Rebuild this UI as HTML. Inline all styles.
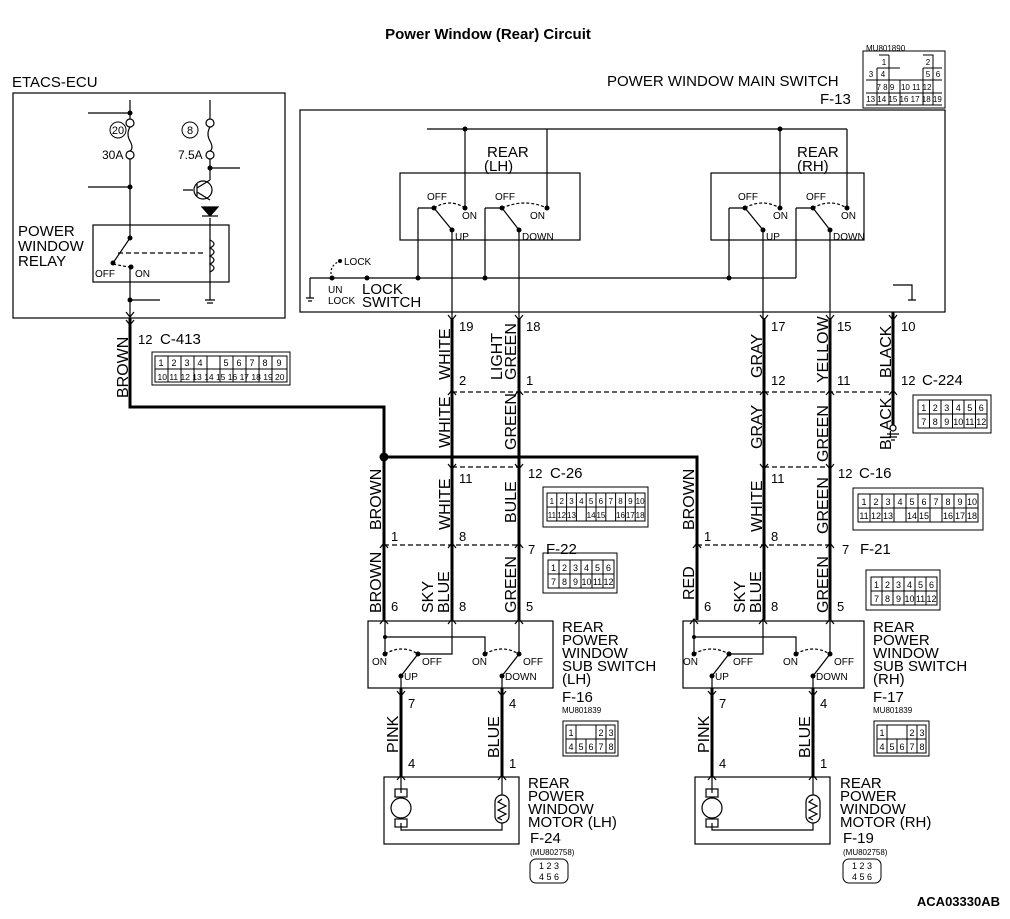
<!DOCTYPE html>
<html><head><meta charset="utf-8"><style>
html,body{margin:0;padding:0;background:#fff}
svg{display:block}
text{font-family:"Liberation Sans",sans-serif;fill:#000}
.n{font-family:"Liberation Sans",sans-serif;font-size:12px}
.w{font-size:16px}
.s{font-size:10px;font-family:"Liberation Sans",sans-serif}
.lb{font-size:15px}
</style></head><body>
<svg width="1010" height="919" viewBox="0 0 1010 919" xmlns="http://www.w3.org/2000/svg">
<g fill="none" stroke="#000" stroke-width="1.2">
<rect x="13" y="93" width="272" height="225"/>
<path d="M130 100 V119 M130 159 V238 M113 263 L130 238"/>
<path d="M130 267 V318"/>
<circle cx="130" cy="123" r="4"/><circle cx="130" cy="155" r="4"/>
<path d="M130 127 q-4 7 0 14 q4 7 0 10"/>
<path d="M210 100 V119 M210 159 V180 M210 218 V300"/>
<circle cx="210" cy="123" r="4"/><circle cx="210" cy="155" r="4"/>
<path d="M210 127 q-4 7 0 14 q4 7 0 10"/>
<path d="M88 113 H130 M88 187 H130 M210 168 H240 M130 300 H160 M183 190 H193"/>
<circle cx="203" cy="190" r="9"/>
<path d="M197 184 V196 M197 188 L210 180 M197 192 L210 200"/>
<path d="M202 207 H218 L210 216 Z" fill="#000"/><path d="M202 216 H218"/>
<path d="M210 240 q8 4 0 8 q8 4 0 8 q8 4 0 8 q8 4 0 8"/>
<path d="M205 300 H215 M207 303 H213"/>
<rect x="93" y="225" width="136" height="57"/>
<path d="M118 253 H205" stroke-dasharray="5,3"/>
<path d="M113 264 Q122 266 130 267" stroke-dasharray="3,2"/>
<rect x="300" y="110" width="645" height="202"/>
<path d="M427 129 H847 M465 129 V208 M547 129 V208 M780 129 V208 M847 129 V208"/>
<rect x="400" y="173" width="180" height="67"/>
<rect x="711" y="173" width="153" height="67"/>
<path d="M418 208 V278 M418 208 H434 L452 230 V318 M485 208 V278 M485 208 H502 L519 230 V318"/>
<path d="M434 208 Q450 198 465 208 M502 208 Q525 198 547 208" stroke-dasharray="3,2"/>
<path d="M729 208 V278 M729 208 H745 L763 230 V318 M796 208 V278 M796 208 H813 L830 230 V318"/>
<path d="M745 208 Q762 198 780 208 M813 208 Q830 198 847 208" stroke-dasharray="3,2"/>
<path d="M310 278 H796 M310 278 V298 M306 298 H314 M308 301 H312"/>
<path d="M332 278 Q328 266 340 261" stroke-dasharray="2,2"/>
<path d="M893 285 H912 V300 M908 300 H916"/>
<g stroke-width="3">
<path d="M130 318 V407 H384 V620"/>
<path d="M384 457 H697 V620"/>
<path d="M452 318 V620 M519 318 V620 M764 318 V620 M830 318 V620 M893 312 V425"/>
<path d="M401 688 V777 M502 688 V777 M712 688 V777 M813 688 V777"/>
</g>
<circle cx="893" cy="428" r="3"/><path d="M887 434 H899 M889 437 H897 M891 440 H895"/>
<g stroke-dasharray="5,3">
<path d="M452 392 H893 M452 467 H519 M764 467 H830 M384 545 H519 M697 545 H830"/>
</g>
<rect x="368" y="621" width="185" height="67"/>
<path d="M385 621 V654 M385 637 H485 V654 M452 621 V654 H418 L401 676 V688 M519 621 V654 L502 676 V688"/>
<path d="M385 654 Q402 644 418 654 M485 654 Q502 644 519 654" stroke-dasharray="3,2"/>
<rect x="683" y="621" width="181" height="67"/>
<path d="M694 621 V654 M694 637 H796 V654 M763 621 V654 H729 L712 676 V688 M830 621 V654 L813 676 V688"/>
<path d="M694 654 Q711 644 729 654 M796 654 Q813 644 830 654" stroke-dasharray="3,2"/>
<rect x="384" y="777" width="135" height="67"/>
<path d="M401 777 V793 M401 823 V830 H502 V823 M502 777 V795"/>
<circle cx="401" cy="808" r="10"/><rect x="395" y="789" width="12" height="8"/><rect x="395" y="819" width="12" height="8"/>
<rect x="495" y="795" width="14" height="28" rx="7"/><path d="M502 799 l-4 3 l8 4 l-8 4 l8 4 l-8 4 l4 2"/>
<rect x="695" y="777" width="135" height="67"/>
<path d="M712 777 V793 M712 823 V830 H813 V823 M813 777 V795"/>
<circle cx="712" cy="808" r="10"/><rect x="706" y="789" width="12" height="8"/><rect x="706" y="819" width="12" height="8"/>
<rect x="806" y="795" width="14" height="28" rx="7"/><path d="M813 799 l-4 3 l8 4 l-8 4 l8 4 l-8 4 l4 2"/>
<path d="M126 312 l4 5 l4 -5 M126 320 l4 5 l4 -5 M448 315 l4 5 l4 -5 M515 315 l4 5 l4 -5 M760 315 l4 5 l4 -5 M826 315 l4 5 l4 -5 M889 315 l4 5 l4 -5"/>
<path d="M448 395 l4 -5 l4 5 M515 395 l4 -5 l4 5 M760 395 l4 -5 l4 5 M826 395 l4 -5 l4 5 M889 395 l4 -5 l4 5"/>
<path d="M448 464 l4 5 l4 -5 M515 464 l4 5 l4 -5 M760 464 l4 5 l4 -5 M826 464 l4 5 l4 -5"/>
<path d="M380 548 l4 -5 l4 5 M448 548 l4 -5 l4 5 M515 548 l4 -5 l4 5 M693 548 l4 -5 l4 5 M760 548 l4 -5 l4 5 M826 548 l4 -5 l4 5"/>
<path d="M380 624 l4 -5 l4 5 M448 624 l4 -5 l4 5 M515 624 l4 -5 l4 5 M690 624 l4 -5 l4 5 M759 624 l4 -5 l4 5 M826 624 l4 -5 l4 5"/>
<path d="M397 691 l4 5 l4 -5 M498 691 l4 5 l4 -5 M708 691 l4 5 l4 -5 M809 691 l4 5 l4 -5"/>
<path d="M397 780 l4 -5 l4 5 M498 780 l4 -5 l4 5 M708 780 l4 -5 l4 5 M809 780 l4 -5 l4 5"/>
</g>
<g fill="#000">
<circle cx="130" cy="113" r="2.5"/><circle cx="130" cy="187" r="2.5"/><circle cx="210" cy="168" r="2.5"/><circle cx="130" cy="300" r="2.5"/>
<circle cx="130" cy="238" r="2.5"/><circle cx="113" cy="263" r="2.5"/><circle cx="131" cy="267" r="2.5"/>
<circle cx="465" cy="129" r="2.5"/><circle cx="780" cy="129" r="2.5"/>
<circle cx="418" cy="278" r="2.5"/><circle cx="485" cy="278" r="2.5"/><circle cx="729" cy="278" r="2.5"/><circle cx="367" cy="278" r="2.5"/><circle cx="332" cy="278" r="2.5"/><circle cx="340" cy="261" r="2"/>
<circle cx="434" cy="208" r="2.5"/><circle cx="465" cy="208" r="2.5"/><circle cx="452" cy="230" r="2.5"/><circle cx="502" cy="208" r="2.5"/><circle cx="547" cy="208" r="2.5"/><circle cx="519" cy="230" r="2.5"/>
<circle cx="745" cy="208" r="2.5"/><circle cx="780" cy="208" r="2.5"/><circle cx="763" cy="230" r="2.5"/><circle cx="813" cy="208" r="2.5"/><circle cx="847" cy="208" r="2.5"/><circle cx="830" cy="230" r="2.5"/>
<circle cx="384" cy="457" r="4.5"/>
<circle cx="385" cy="637" r="2"/><circle cx="385" cy="654" r="2.5"/><circle cx="418" cy="654" r="2.5"/><circle cx="401" cy="676" r="2.5"/><circle cx="485" cy="654" r="2.5"/><circle cx="519" cy="654" r="2.5"/><circle cx="502" cy="676" r="2.5"/>
<circle cx="694" cy="637" r="2"/><circle cx="694" cy="654" r="2.5"/><circle cx="729" cy="654" r="2.5"/><circle cx="712" cy="676" r="2.5"/><circle cx="796" cy="654" r="2.5"/><circle cx="830" cy="654" r="2.5"/><circle cx="813" cy="676" r="2.5"/>
</g>
<text x="488" y="39" text-anchor="middle" font-weight="bold" font-size="15">Power Window (Rear) Circuit</text>
<text x="12" y="87" font-size="15">ETACS-ECU</text>
<circle cx="118" cy="130" r="8" fill="none" stroke="#000"/><text x="118" y="134" text-anchor="middle" font-size="11">20</text>
<circle cx="190" cy="130" r="8" fill="none" stroke="#000"/><text x="190" y="134" text-anchor="middle" font-size="11">8</text>
<text x="102" y="159" class="n">30A</text><text x="178" y="159" class="n">7.5A</text>
<text x="18" y="236" class="lb">POWER</text><text x="18" y="251" class="lb">WINDOW</text><text x="18" y="266" class="lb">RELAY</text>
<text x="95" y="277" class="s">OFF</text><text x="135" y="277" class="s">ON</text>
<text x="607" y="86" font-size="15">POWER WINDOW MAIN SWITCH</text>
<text x="820" y="104" font-size="15">F-13</text>
<text x="487" y="157" font-size="15">REAR</text><text x="484" y="171" font-size="15">(LH)</text>
<text x="797" y="157" font-size="15">REAR</text><text x="797" y="171" font-size="15">(RH)</text>
<g class="s"><text x="427" y="200">OFF</text><text x="462" y="219">ON</text><text x="455" y="240">UP</text>
<text x="495" y="200">OFF</text><text x="530" y="219">ON</text><text x="522" y="240">DOWN</text>
<text x="738" y="200">OFF</text><text x="773" y="219">ON</text><text x="766" y="240">UP</text>
<text x="806" y="200">OFF</text><text x="841" y="219">ON</text><text x="833" y="240">DOWN</text>
<text x="344" y="265">LOCK</text><text x="328" y="293">UN</text><text x="328" y="304">LOCK</text>
<text x="372" y="665">ON</text><text x="422" y="665">OFF</text><text x="404" y="680">UP</text>
<text x="472" y="665">ON</text><text x="523" y="665">OFF</text><text x="505" y="680">DOWN</text>
<text x="683" y="665">ON</text><text x="733" y="665">OFF</text><text x="715" y="680">UP</text>
<text x="783" y="665">ON</text><text x="834" y="665">OFF</text><text x="816" y="680">DOWN</text></g>
<text x="362" y="294" font-size="15">LOCK</text><text x="362" y="307" font-size="15">SWITCH</text>
<g font-size="13">
<text x="138" y="344">12</text><text x="160" y="344" font-size="15">C-413</text>
<text x="459" y="331">19</text><text x="526" y="331">18</text><text x="771" y="331">17</text><text x="837" y="331">15</text><text x="901" y="331">10</text>
<text x="459" y="385">2</text><text x="526" y="385">1</text><text x="771" y="385">12</text><text x="837" y="385">11</text><text x="901" y="385">12</text><text x="922" y="385" font-size="15">C-224</text>
<text x="459" y="483">11</text><text x="528" y="478">12</text><text x="550" y="478" font-size="15">C-26</text>
<text x="771" y="483">11</text><text x="838" y="478">12</text><text x="859" y="478" font-size="15">C-16</text>
<text x="391" y="541">1</text><text x="459" y="541">8</text><text x="528" y="554">7</text><text x="546" y="554" font-size="15">F-22</text>
<text x="704" y="541">1</text><text x="771" y="541">8</text><text x="842" y="554">7</text><text x="860" y="554" font-size="15">F-21</text>
<text x="391" y="611">6</text><text x="459" y="611">8</text><text x="526" y="611">5</text>
<text x="704" y="611">6</text><text x="771" y="611">8</text><text x="837" y="611">5</text>
<text x="408" y="708">7</text><text x="509" y="708">4</text><text x="719" y="708">7</text><text x="820" y="708">4</text>
<text x="408" y="768">4</text><text x="509" y="768">1</text><text x="719" y="768">4</text><text x="820" y="768">1</text>
</g>
<g class="w">
<text transform="translate(128,398) rotate(-90)">BROWN</text>
<text transform="translate(450,380) rotate(-90)">WHITE</text>
<text transform="translate(502,380) rotate(-90)">LIGHT</text><text transform="translate(516,380) rotate(-90)">GREEN</text>
<text transform="translate(450,448) rotate(-90)">WHITE</text>
<text transform="translate(516,450) rotate(-90)">GREEN</text>
<text transform="translate(381,530) rotate(-90)">BROWN</text>
<text transform="translate(450,530) rotate(-90)">WHITE</text>
<text transform="translate(516,523) rotate(-90)">BULE</text>
<text transform="translate(381,613) rotate(-90)">BROWN</text>
<text transform="translate(433,613) rotate(-90)">SKY</text><text transform="translate(449,613) rotate(-90)">BLUE</text>
<text transform="translate(516,613) rotate(-90)">GREEN</text>
<text transform="translate(762,378) rotate(-90)">GRAY</text>
<text transform="translate(828,383) rotate(-90)">YELLOW</text>
<text transform="translate(891,378) rotate(-90)">BLACK</text>
<text transform="translate(762,449) rotate(-90)">GRAY</text>
<text transform="translate(828,462) rotate(-90)">GREEN</text>
<text transform="translate(891,450) rotate(-90)">BLACK</text>
<text transform="translate(694,530) rotate(-90)">BROWN</text>
<text transform="translate(762,532) rotate(-90)">WHITE</text>
<text transform="translate(828,534) rotate(-90)">GREEN</text>
<text transform="translate(694,600) rotate(-90)">RED</text>
<text transform="translate(745,613) rotate(-90)">SKY</text><text transform="translate(761,613) rotate(-90)">BLUE</text>
<text transform="translate(828,613) rotate(-90)">GREEN</text>
<text transform="translate(398,753) rotate(-90)">PINK</text>
<text transform="translate(499,758) rotate(-90)">BLUE</text>
<text transform="translate(709,753) rotate(-90)">PINK</text>
<text transform="translate(810,758) rotate(-90)">BLUE</text>
</g>
<g font-size="15">
<text x="562" y="632">REAR</text><text x="562" y="645">POWER</text><text x="562" y="658">WINDOW</text><text x="562" y="671">SUB SWITCH</text><text x="562" y="684">(LH)</text><text x="562" y="702">F-16</text>
<text x="873" y="632">REAR</text><text x="873" y="645">POWER</text><text x="873" y="658">WINDOW</text><text x="873" y="671">SUB SWITCH</text><text x="873" y="684">(RH)</text><text x="873" y="702">F-17</text>
<text x="528" y="788">REAR</text><text x="528" y="801">POWER</text><text x="528" y="814">WINDOW</text><text x="528" y="827">MOTOR (LH)</text><text x="530" y="843">F-24</text>
<text x="840" y="788">REAR</text><text x="840" y="801">POWER</text><text x="840" y="814">WINDOW</text><text x="840" y="827">MOTOR (RH)</text><text x="843" y="843">F-19</text>
</g>
<text x="1000" y="906" text-anchor="end" font-weight="bold" font-size="13">ACA03330AB</text>
<g font-size="8"><text x="562" y="713">MU801839</text><text x="873" y="713">MU801839</text><text x="530" y="855">(MU802758)</text><text x="843" y="855">(MU802758)</text><text x="866" y="51">MU801890</text></g>
<g fill="none" stroke="#000" stroke-width="1">
<rect x="152" y="352" width="138" height="33"/>
<path d="M155 356 H287 V382 H155 Z M155 369 H287"/>
<path d="M168 356 V382 M181 356 V382 M194 356 V369 M207 356 V369 M194 369 V382 M207 369 V382 M220 356 V382 M233 356 V382 M246 356 V382 M259 356 V382 M272 356 V382"/>
<rect x="863" y="51" width="82" height="57"/>
<path d="M866 80 H942 M866 93 H942 M866 105 H942 M877 68 V105 M889 55 V105 M900 80 V105 M923 68 V105 M933 68 V105 M877 68 H900 M923 68 H942 M879 55 H889 M923 55 H933 V68"/>
<rect x="913" y="395" width="78" height="38"/>
<path d="M918 400 H987 V428 H918 Z M918 414 H987 M929.5 400 V428 M941 400 V428 M952.5 400 V428 M964 400 V428 M975.5 400 V428"/>
<rect x="543" y="487" width="105" height="40"/>
<path d="M547 493 H645 V521 H547 Z M547 507 H645 M556.8 493 V521 M566.6 493 V521 M576.4 493 V521 M586.2 493 V521 M596 493 V521 M605.8 493 V521 M615.6 493 V521 M625.4 493 V521 M635.2 493 V521"/>
<rect x="853" y="488" width="130" height="42"/>
<path d="M858 494 H978 V522 H858 Z M858 508 H978 M870 494 V522 M882 494 V522 M894 494 V522 M906 494 V522 M918 494 V522 M930 494 V522 M942 494 V522 M954 494 V522 M966 494 V522"/>
<rect x="543" y="553" width="74" height="40"/>
<path d="M548 560 H614 V588 H548 Z M548 574 H614 M559 560 V588 M570 560 V588 M581 560 V588 M592 560 V588 M603 560 V588"/>
<rect x="866" y="570" width="74" height="40"/>
<path d="M871 577 H937 V605 H871 Z M871 591 H937 M882 577 V605 M893 577 V605 M904 577 V605 M915 577 V605 M926 577 V605"/>
<rect x="563" y="721" width="55" height="35"/><path d="M566 725 H615 V753 H566 Z M566 739 H615 M576 725 V753 M586 739 V753 M596 725 V753 M606 725 V753"/>
<rect x="874" y="721" width="55" height="35"/><path d="M877 725 H926 V753 H877 Z M877 739 H926 M887 725 V753 M897 739 V753 M907 725 V753 M917 725 V753"/>
<rect x="530" y="859" width="38" height="24" rx="6"/><rect x="843" y="859" width="38" height="24" rx="6"/>
</g>
<g font-size="9" text-anchor="middle">
<text x="161" y="366">1</text><text x="174" y="366">2</text><text x="187" y="366">3</text><text x="200" y="366">4</text><text x="226" y="366">5</text><text x="239" y="366">6</text><text x="252" y="366">7</text><text x="265" y="366">8</text><text x="279" y="366">9</text>
<text x="221" y="380" font-size="8.5">10 11 12 13 14 15 16 17 18 19 20</text>
<text x="923.75" y="411">1</text><text x="935.25" y="411">2</text><text x="946.75" y="411">3</text><text x="958.25" y="411">4</text><text x="969.75" y="411">5</text><text x="981.25" y="411">6</text>
<text x="923.75" y="425">7</text><text x="935.25" y="425">8</text><text x="946.75" y="425">9</text><text x="958.25" y="425">10</text><text x="969.75" y="425">11</text><text x="981.25" y="425">12</text>
<g font-size="8">
<text x="551.9" y="504">1</text><text x="561.7" y="504">2</text><text x="571.5" y="504">3</text><text x="581.3" y="504">4</text><text x="591.1" y="504">5</text><text x="600.9" y="504">6</text><text x="610.7" y="504">7</text><text x="620.5" y="504">8</text><text x="630.3" y="504">9</text><text x="640.1" y="504">10</text>
<text x="551.9" y="518">11</text><text x="561.7" y="518">12</text><text x="571.5" y="518">13</text><text x="591.1" y="518">14</text><text x="600.9" y="518">15</text><text x="620.5" y="518">16</text><text x="630.3" y="518">17</text><text x="640.1" y="518">18</text>
</g>
<text x="864" y="505">1</text><text x="876" y="505">2</text><text x="888" y="505">3</text><text x="900" y="505">4</text><text x="912" y="505">5</text><text x="924" y="505">6</text><text x="936" y="505">7</text><text x="948" y="505">8</text><text x="960" y="505">9</text><text x="972" y="505">10</text>
<text x="864" y="519">11</text><text x="876" y="519">12</text><text x="888" y="519">13</text><text x="912" y="519">14</text><text x="924" y="519">15</text><text x="948" y="519">16</text><text x="960" y="519">17</text><text x="972" y="519">18</text>
<text x="553.5" y="571">1</text><text x="564.5" y="571">2</text><text x="575.5" y="571">3</text><text x="586.5" y="571">4</text><text x="597.5" y="571">5</text><text x="608.5" y="571">6</text>
<text x="553.5" y="585">7</text><text x="564.5" y="585">8</text><text x="575.5" y="585">9</text><text x="586.5" y="585">10</text><text x="597.5" y="585">11</text><text x="608.5" y="585">12</text>
<text x="876.5" y="588">1</text><text x="887.5" y="588">2</text><text x="898.5" y="588">3</text><text x="909.5" y="588">4</text><text x="920.5" y="588">5</text><text x="931.5" y="588">6</text>
<text x="876.5" y="602">7</text><text x="887.5" y="602">8</text><text x="898.5" y="602">9</text><text x="909.5" y="602">10</text><text x="920.5" y="602">11</text><text x="931.5" y="602">12</text>
<text x="571" y="736">1</text><text x="601" y="736">2</text><text x="611" y="736">3</text>
<text x="571" y="750">4</text><text x="581" y="750">5</text><text x="591" y="750">6</text><text x="601" y="750">7</text><text x="611" y="750">8</text>
<text x="882" y="736">1</text><text x="912" y="736">2</text><text x="922" y="736">3</text>
<text x="882" y="750">4</text><text x="892" y="750">5</text><text x="902" y="750">6</text><text x="912" y="750">7</text><text x="922" y="750">8</text>
<text x="549" y="869">1 2 3</text><text x="549" y="880">4 5 6</text>
<text x="862" y="869">1 2 3</text><text x="862" y="880">4 5 6</text>
<g font-size="8"><text x="884" y="65">1</text><text x="928" y="65">2</text><text x="871" y="77">3</text><text x="883" y="77">4</text><text x="928" y="77">5</text><text x="938" y="77">6</text>
<text x="904" y="90">7 8 9 &#160; 10 11 12</text><text x="904" y="102">13 14 15 16 17 18 19</text></g>
</g>
</svg>
</body></html>
